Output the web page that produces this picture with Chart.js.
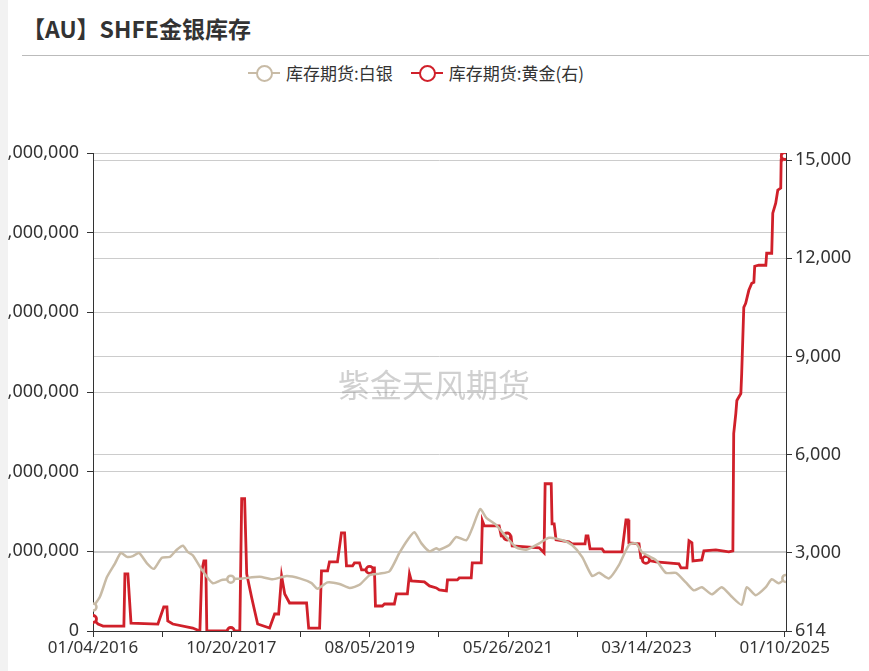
<!DOCTYPE html>
<html><head><meta charset="utf-8">
<script src="https://cdn.jsdelivr.net/npm/chart.js@4"></script>
<style>
body{margin:0;width:869px;height:671px;overflow:hidden;background:#fff;font-family:"Noto Sans","Noto Sans CJK SC",sans-serif;position:relative}
#strip{position:absolute;left:0;top:0;width:8px;height:671px;background:#f2f2f2;z-index:2}
#title{position:absolute;left:22px;top:11px;font-size:23px;font-weight:bold;color:#333;font-family:"Noto Sans CJK SC",sans-serif}
#rule{position:absolute;left:22px;right:0;top:55px;border-top:1px solid #bbb}
#legend{position:absolute;top:60px;left:248px;font-size:17px;color:#333;font-family:"Noto Sans CJK SC",sans-serif;display:flex;gap:18px}
.li{display:flex;align-items:center}
.ic{position:relative;width:32px;height:20px;margin-right:6px}
.ic i{position:absolute;left:0;right:0;top:9px;border-top:2px solid}
.ic b{position:absolute;left:8px;top:2px;width:13px;height:13px;border-radius:50%;border:2px solid;background:#fff}
#wm{position:absolute;left:338px;top:360px;font-size:32px;color:rgba(150,150,150,0.45);font-family:"Noto Sans CJK SC",sans-serif}
#wrap{position:absolute;left:-60px;top:0;width:929px;height:671px}
</style></head>
<body>
<div id="strip"></div>
<div id="title">【AU】SHFE金银库存</div>
<div id="rule"></div>
<div id="legend">
  <div class="li"><span class="ic" style="color:#c8bba6"><i></i><b></b></span>库存期货:白银</div>
  <div class="li"><span class="ic" style="color:#d0202a"><i></i><b></b></span>库存期货:黄金(右)</div>
</div>
<div id="wrap"><canvas id="c"></canvas></div>
<div id="wm">紫金天风期货</div>
<script>
// x values are days since 2016-01-04
const xLabels = ['01/04/2016', '10/20/2017', '08/05/2019', '05/26/2021', '03/14/2023', '01/10/2025'];
const labelSpacing = 658.8;

const silverDays = [0,33,67,105,133,162,190,219,257,290,328,366,399,428,452,475,518,570,613,656,713,794,856,922,984,1041,1069,1117,1174,1222,1269,1317,1364,1412,1459,1497,1530,1564,1602,1635,1649,1697,1730,1778,1806,1844,1873,1920,1968,2015,2063,2125,2172,2234,2281,2329,2377,2410,2457,2505,2552,2586,2614,2681,2728,2776,2823,2861,2899,2947,2994,3042,3089,3113,3156,3204,3232,3265,3299];
const silverKg = [300000,430000,680000,850000,980000,930000,940000,980000,850000,780000,920000,930000,1020000,1070000,990000,950000,770000,600000,640000,650000,660000,680000,650000,690000,660000,600000,530000,610000,590000,540000,580000,700000,720000,750000,980000,1140000,1240000,1100000,1000000,1040000,1020000,1080000,1180000,1140000,1290000,1530000,1420000,1330000,1180000,1050000,1020000,1100000,1170000,1140000,1080000,930000,690000,730000,660000,830000,1080000,1100000,990000,890000,730000,730000,610000,510000,550000,460000,550000,430000,330000,550000,450000,550000,650000,600000,660000];

const goldDays = [0,24,48,147,152,166,181,309,337,352,356,380,475,509,518,528,537,542,656,699,708,722,732,756,770,784,841,865,884,898,913,936,1017,1027,1079,1088,1117,1126,1164,1183,1198,1207,1236,1245,1269,1279,1317,1326,1340,1345,1378,1388,1435,1445,1497,1507,1516,1578,1602,1635,1649,1683,1688,1735,1744,1801,1806,1849,1854,1863,1934,1944,1972,1991,1996,2125,2148,2153,2182,2186,2196,2205,2267,2281,2343,2348,2357,2367,2424,2434,2519,2538,2548,2552,2600,2609,2633,2681,2790,2800,2828,2838,2852,2857,2899,2909,2966,3028,3047,3051,3061,3066,3085,3089,3094,3099,3108,3123,3137,3147,3151,3170,3204,3208,3232,3237,3251,3261,3275,3277,3280,3294];
const goldKg = [980,827,765,765,2357,2357,857,827,1347,1347,918,827,704,614,2449,2755,2755,614,614,614,4653,4653,2357,1622,1224,827,704,1133,1133,2296,1745,1469,1469,704,704,2449,2449,2724,2724,3612,3612,2602,2602,2694,2694,2480,2480,2541,2541,1378,1378,1439,1439,1745,1745,2357,2143,2112,1990,1929,1868,1837,2174,2174,2235,2235,2694,2694,3980,3826,3826,3520,3500,3490,3214,3153,3000,5112,5112,3888,3888,3398,3337,3276,3276,3520,3520,3122,3122,3031,3031,4010,4010,3306,3276,2847,2786,2724,2663,2541,2541,3367,3306,2755,2786,3061,3092,3031,3061,6643,7255,7653,7867,8479,9489,10500,10622,11020,11234,11265,11755,11785,11785,12152,12152,13377,13683,14081,14142,15000,15153,15122];

const rightTicks = [614, 3000, 6000, 9000, 12000, 15000];

const silverMarks = [0, 656, 3299];
const goldMarks = [0, 656, 1317, 1972, 2633, 3294];

function toPoints(xs, ys) {
    return xs.map((x, i) => ({ x, y: ys[i] }));
}

const axisFont = { family: 'Noto Sans', size: 18 };

new Chart(document.getElementById('c'), {
    type: 'line',
    data: {
        datasets: [{
            label: '库存期货:白银',
            data: toPoints(silverDays, silverKg),
            yAxisID: 'y',
            borderColor: '#c8bba6',
            borderWidth: 2.5,
            pointBackgroundColor: '#fff',
            pointBorderColor: '#c8bba6',
            pointRadius: ctx => silverMarks.includes(ctx.raw && ctx.raw.x) ? 3.5 : 0,
            tension: 0.2
        }, {
            label: '库存期货:黄金(右)',
            data: toPoints(goldDays, goldKg),
            yAxisID: 'y1',
            borderColor: '#d0202a',
            borderWidth: 2.8,
            pointBackgroundColor: '#fff',
            pointBorderColor: '#d0202a',
            pointRadius: ctx => goldMarks.includes(ctx.raw && ctx.raw.x) ? 3.5 : 0,
            tension: 0
        }]
    },
    options: {
        responsive: true,
        maintainAspectRatio: false,
        animation: false,
        layout: { padding: { top: 153, right: 0 } },
        plugins: { legend: { display: false }, tooltip: { enabled: false } },
        scales: {
            x: {
                type: 'linear', min: 0, max: 3300,
                afterBuildTicks: s => {
                    const t = [];
                    for (let k = 0; k < xLabels.length; k++) {
                        t.push({ value: k * labelSpacing });
                        if (k < xLabels.length - 1) t.push({ value: (k + 0.5) * labelSpacing });
                    }
                    s.ticks = t;
                },
                afterFit: s => { s.height = 40; },
                grid: { drawOnChartArea: false, color: '#333', tickLength: 6 },
                border: { color: '#333' },
                ticks: {
                    autoSkip: false, maxRotation: 0, color: '#333', font: { family: 'Noto Sans', size: 17 }, padding: 1,
                    callback: v => {
                        const k = Math.round(v / labelSpacing);
                        return Math.abs(v - k * labelSpacing) < 1 ? xLabels[k] : '';
                    }
                }
            },
            y: {
                position: 'left', min: 0, max: 6000000,
                afterFit: s => { s.width = 153; },
                grid: { color: '#cccccc', tickLength: 6, tickColor: '#333' },
                border: { color: '#333' },
                ticks: { stepSize: 1000000, padding: 8, color: '#333', font: axisFont, callback: v => v.toLocaleString('en-US') }
            },
            y1: {
                position: 'right', min: 614, max: 15214,
                afterBuildTicks: s => { s.ticks = rightTicks.map(v => ({ value: v })); },
                afterFit: s => { s.width = 83; },
                grid: { color: '#cccccc', tickLength: 6, tickColor: '#333' },
                border: { color: '#333' },
                ticks: { color: '#333', font: axisFont, callback: v => v.toLocaleString('en-US') }
            }
        }
    }
});
</script>
</body></html>
